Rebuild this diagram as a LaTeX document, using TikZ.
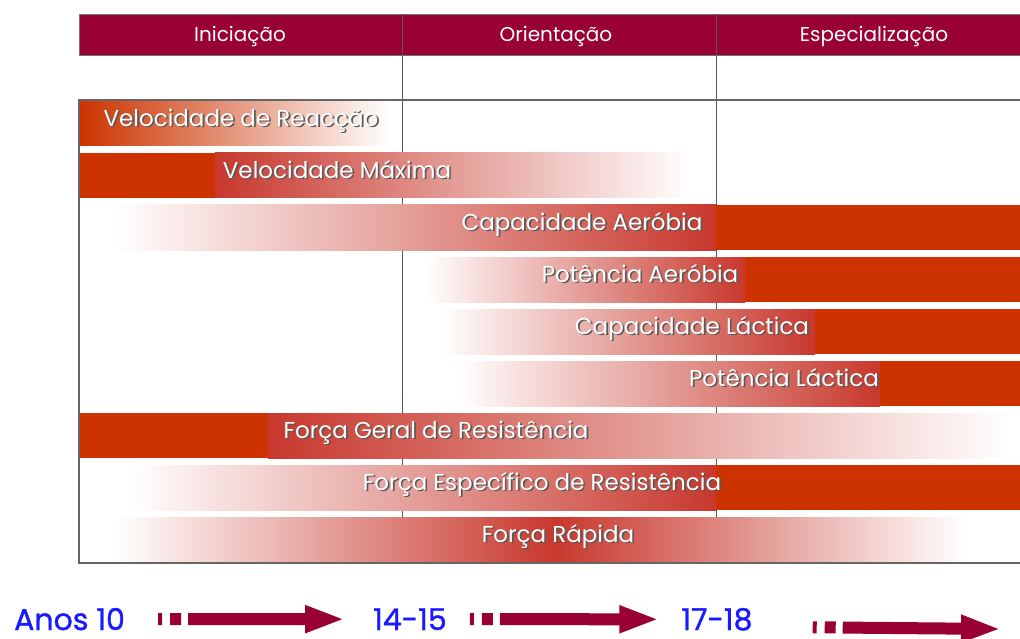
\documentclass[tikz,border=0pt]{standalone}
\usepackage{fontspec}
\setmainfont{Poppins}
\newfontfamily\yearfont[FakeBold=1.2]{Poppins}
\usetikzlibrary{arrows.meta}

\definecolor{faseRed}{HTML}{990033}
\definecolor{barRed}{HTML}{CC3300}
\definecolor{fadeRed}{HTML}{C8382D}
\definecolor{anoBlue}{HTML}{1A1AFF}

% label with a dark drop shadow under the white text
\newcommand{\barlabel}[4]{%
  \node[barshadow] (#1-sh) at (#2+1.7,#3+1.7) {#4};
  \node[bartext] (#1) at (#2,#3) {#4};}

\begin{document}
\begin{tikzpicture}[
  x = 1pt, y = -1pt,
  gridline/.style = {draw = black!65, line width = 1pt},
  framelines/.style = {draw = black!60, line width = 1.2pt},
  fasetext/.style = {text = white, inner sep = 0pt, font = \fontsize{20}{24}\selectfont},
  bartext/.style = {text = white, inner sep = 0pt, text height = 0.75em, text depth = 0.2em,
                    font = \fontsize{23}{26}\selectfont},
  barshadow/.style = {bartext, text = black!65},
  yeartext/.style = {text = anoBlue, inner sep = 0pt, anchor = base,
                     font = \yearfont\fontsize{30}{33}\selectfont},
  yeararrow/.style = {draw = faseRed, line width = 12pt,
                      dash pattern = on 4pt off 8pt on 11pt off 7pt on 400pt,
                      -{Triangle[length = 40pt, width = 25pt]}},
  ]
  \useasboundingbox (0,0) rectangle (1020,639);

  % header
  \fill[faseRed, draw = black!55, line width = 0.8pt] (79,14) rectangle (1021,55);
  \node[fasetext] (ini) at (240,36) {Iniciação};
  \node[fasetext] (ori) at (556,36) {Orientação};
  \node[fasetext] (esp) at (874,36) {Especialização};

  % column dividers
  \draw[gridline] (402,14) -- (402,563);
  \draw[gridline] (716,14) -- (716,563);

  % bars
  \shade[left color = barRed, right color = white] (79,101) rectangle (390,146);
  \fill[barRed] (79,153) rectangle (215,198);
  \shade[left color = fadeRed, right color = white] (215,153) rectangle (690,198);
  \shade[left color = white, right color = fadeRed] (115,205) rectangle (716,250);
  \fill[barRed] (716,205) rectangle (1020,250);
  \shade[left color = white, right color = fadeRed] (425,257) rectangle (745,302);
  \fill[barRed] (745,257) rectangle (1020,302);
  \shade[left color = white, right color = fadeRed] (440,309) rectangle (815,354);
  \fill[barRed] (815,309) rectangle (1020,354);
  \shade[left color = white, right color = fadeRed] (455,361) rectangle (880,406);
  \fill[barRed] (880,361) rectangle (1020,406);
  \fill[barRed] (79,413) rectangle (268,458);
  \shade[left color = fadeRed, right color = white] (268,413) rectangle (1010,458);
  \shade[left color = white, right color = fadeRed] (130,465) rectangle (716,510);
  \fill[barRed] (716,465) rectangle (1020,510);
  \shade[left color = white, right color = fadeRed] (115,517) rectangle (555,562);
  \shade[left color = fadeRed, right color = white] (555,517) rectangle (965,562);

  % frame
  \draw[framelines] (1020,100) -- (79,100) -- (79,563) -- (1020,563);

  % bar labels
  \barlabel{velreac}{241}{123.5}{Velocidade de Reacção}
  \barlabel{velmax}{337}{175.5}{Velocidade Máxima}
  \barlabel{capaer}{582}{227.5}{Capacidade Aeróbia}
  \barlabel{potaer}{640}{279.5}{Potência Aeróbia}
  \barlabel{caplac}{692}{331.5}{Capacidade Láctica}
  \barlabel{potlac}{784}{383.5}{Potência Láctica}
  \barlabel{fgr}{436}{435.5}{Força Geral de Resistência}
  \barlabel{fer}{542}{487.5}{Força Específico de Resistência}
  \barlabel{frap}{558}{539.5}{Força Rápida}

  % age axis
  \node[yeartext, anchor = base west] (a10) at (14,630) {Anos 10};
  \node[yeartext] (a1415) at (410,630) {14-15};
  \node[yeartext] (a1718) at (717,630) {17-18};
  \coordinate (aend) at (1001,629);

  \draw[yeararrow] ([xshift = 33]a10.east) -- ([xshift = -28]a1415.west);
  \draw[yeararrow] ([xshift = 23]a1415.east) -- ([xshift = -22]a1718.west);
  \draw[yeararrow] ([xshift = 60, yshift = -8]a1718.east) -- (aend);
\end{tikzpicture}
\end{document}
